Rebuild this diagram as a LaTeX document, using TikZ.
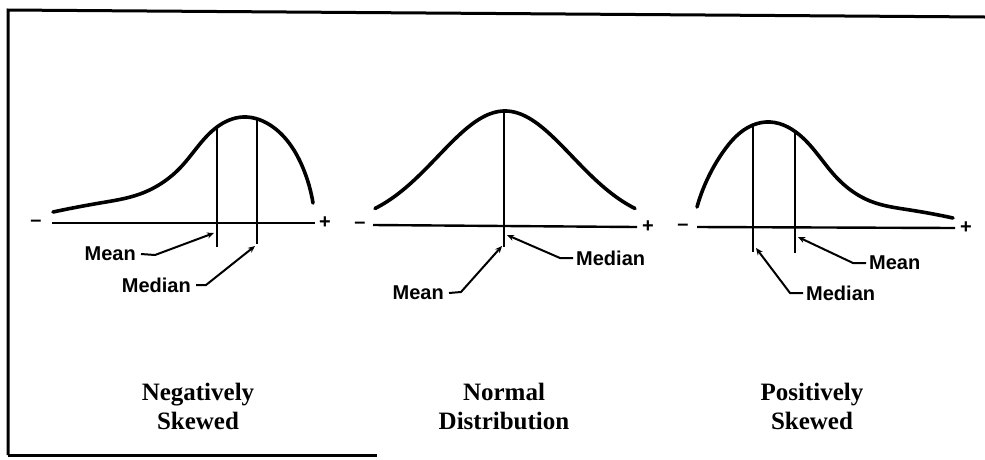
\documentclass[tikz,border=0pt]{standalone}
\usepackage{fontspec}
\setmainfont{Liberation Serif}
\setsansfont{Liberation Sans}
\usetikzlibrary{arrows.meta,hobby}
\begin{document}
\begin{tikzpicture}[x=1pt,y=-1pt,
  curve/.style={line width=3.6pt,line cap=round,use Hobby shortcut},
  axisline/.style={line width=2.4pt},
  vline/.style={line width=2pt},
  leader/.style={line width=2pt,-{Stealth[length=7pt,width=6pt]}},
  lbl/.style={font=\sffamily\bfseries\fontsize{20}{20}\selectfont,inner sep=1pt},
  sign/.style={font=\sffamily\bfseries\fontsize{20}{20}\selectfont,inner sep=0pt},
  title/.style={font=\bfseries\fontsize{25}{29}\selectfont,align=center,inner sep=0pt}]
\useasboundingbox (0,0) rectangle (985,459);
% frame
\draw[line width=3pt] (8,455) -- (8,10) -- (985,17);
\draw[line width=3pt] (8,455) -- (377,455);
% ---------- left: negatively skewed ----------
\node[sign] (lm) at (36,223) {\textendash};
\node[sign] (lp) at (325,223) {+};
\draw[axisline] (52,223) -- (315,223);
\draw[curve] (53,212) .. (100,203) .. (140,194) .. (180,168) .. (217,127) .. (243,117) .. (273,127) .. (303,168) .. (313,203);
\coordinate (lmeantop) at (217,127);
\coordinate (lmeanbot) at (217,247);
\coordinate (lmedtop) at (257,119);
\coordinate (lmedbot) at (257,244);
\draw[vline] (lmeantop) -- (lmeanbot);
\draw[vline] (lmedtop) -- (lmedbot);
\node[lbl,anchor=east] (lmean) at (137,254) {Mean};
\node[lbl,anchor=east] (lmed) at (192,285) {Median};
\draw[leader] (lmean.east) ++(4,0) -- ++(14,1) -- (214,233);
\draw[leader] (lmed.east) ++(4,0) -- ++(10,0) -- (255,246);
% ---------- middle: normal ----------
\node[sign] (mm) at (360,225) {\textendash};
\node[sign] (mp) at (648,227) {+};
\draw[axisline] (373,225) -- (637,227);
\draw[line width=3.6pt,line cap=round,domain=375:635,samples=100] plot (\x,{226-115*exp(-0.5*((\x-505)/67)^2)});
\coordinate (mtop) at (504,111);
\coordinate (mbot) at (504,247);
\draw[vline] (mtop) -- (mbot);
\node[lbl,anchor=west] (mmed) at (575,258) {Median};
\node[lbl,anchor=east] (mmean) at (445,293) {Mean};
\draw[leader] (mmed.west) ++(-2,0) -- ++(-13,0) -- (507,235);
\draw[leader] (mmean.east) ++(4,0) -- ++(12,-1) -- (502,246);
% ---------- right: positively skewed ----------
\node[sign] (rm) at (683,227) {\textendash};
\node[sign] (rp) at (966,228) {+};
\draw[axisline] (697,227) -- (955,228);
\draw[curve] (697,207) .. (723,152) .. (753,125) .. (770,122) .. (803,138) .. (837,178) .. (870,201) .. (910,210) .. (953,218);
\coordinate (rmedtop) at (753,125);
\coordinate (rmedbot) at (753,252);
\coordinate (rmeantop) at (795,131);
\coordinate (rmeanbot) at (795,253);
\draw[vline] (rmedtop) -- (rmedbot);
\draw[vline] (rmeantop) -- (rmeanbot);
\node[lbl,anchor=west] (rmean) at (868,263) {Mean};
\node[lbl,anchor=west] (rmed) at (805,293) {Median};
\draw[leader] (rmean.west) ++(-2,0) -- ++(-13,0) -- (798,237);
\draw[leader] (rmed.west) ++(-2,0) -- ++(-13,0) -- (756,248);
% ---------- titles ----------
\node[title] (tneg) at (198,406) {Negatively\\Skewed};
\node[title] (tnorm) at (504,406) {Normal\\Distribution};
\node[title] (tpos) at (812,406) {Positively\\Skewed};
\end{tikzpicture}
\end{document}
